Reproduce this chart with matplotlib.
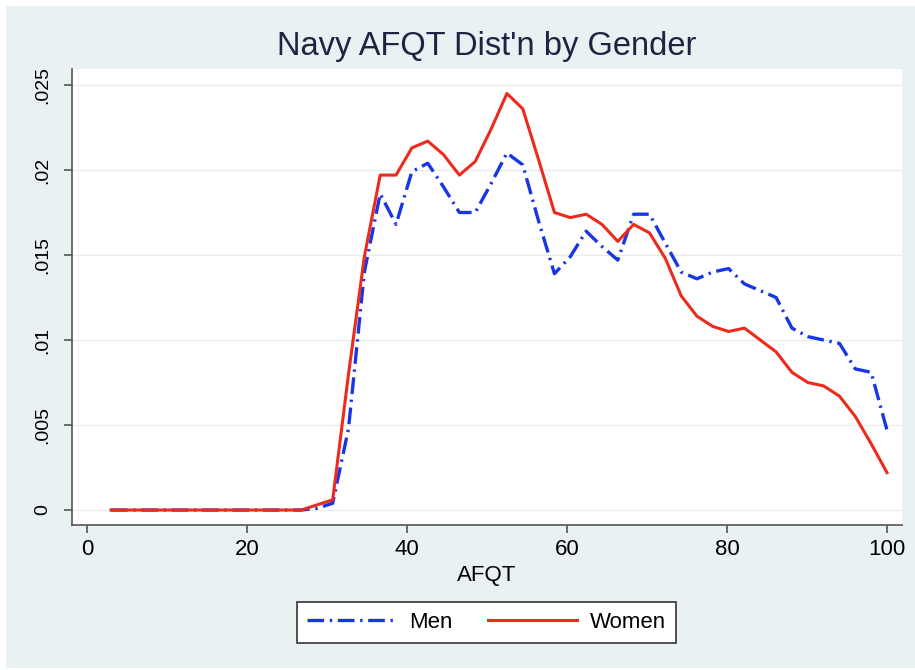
import matplotlib
matplotlib.use('Agg')
import matplotlib.pyplot as plt
from matplotlib.patches import Rectangle

plt.rcParams['font.family'] = ['Liberation Sans', 'DejaVu Sans']

# kdensity evaluation points (AFQT)
afqt = [3.00, 4.98, 6.96, 8.94, 10.92, 12.90, 14.88, 16.86, 18.84, 20.82,
        22.80, 24.78, 26.76, 28.73, 30.71, 32.69, 34.67, 36.65, 38.63, 40.61,
        42.59, 44.57, 46.55, 48.53, 50.51, 52.49, 54.47, 56.45, 58.43, 60.41,
        62.39, 64.37, 66.35, 68.33, 70.31, 72.29, 74.27, 76.24, 78.22, 80.20,
        82.18, 84.16, 86.14, 88.12, 90.10, 92.08, 94.06, 96.04, 98.02, 100.00]

men = [0, 0, 0, 0, 0, 0, 0, 0, 0, 0,
       0, 0, 0, 0.0001, 0.0004, 0.0048, 0.0140, 0.0186, 0.0168, 0.0199,
       0.0204, 0.0190, 0.0175, 0.0175, 0.0192, 0.0210, 0.0203, 0.0170, 0.0139, 0.0149,
       0.0164, 0.0155, 0.0147, 0.0174, 0.0174, 0.0157, 0.0140, 0.0136, 0.0140, 0.0142,
       0.0133, 0.0129, 0.0125, 0.0107, 0.0102, 0.0100, 0.0098, 0.0083, 0.0081, 0.0047]

women = [0, 0, 0, 0, 0, 0, 0, 0, 0, 0,
         0, 0, 0, 0.0003, 0.0006, 0.0080, 0.0149, 0.0197, 0.0197, 0.0213,
         0.0217, 0.0209, 0.0197, 0.0205, 0.0224, 0.0245, 0.0236, 0.0206, 0.0175, 0.0172,
         0.0174, 0.0168, 0.0158, 0.0168, 0.0163, 0.0148, 0.0126, 0.0114, 0.0108, 0.0105,
         0.0107, 0.0100, 0.0093, 0.0081, 0.0075, 0.0073, 0.0067, 0.0055, 0.0039, 0.0022]

xticks = [0, 20, 40, 60, 80, 100]
yticks = [0, 0.005, 0.01, 0.015, 0.02, 0.025]
ytick_labels = ['0', '.005', '.01', '.015', '.02', '.025']

W, H = 915, 670
fig = plt.figure(figsize=(W / 100, H / 100), dpi=100, facecolor='white')
# light bluish graph region behind everything
fig.patches.append(Rectangle((6 / W, 2 / H), 1 - 6 / W, (H - 8) / H,
                             transform=fig.transFigure, facecolor='#e9f1f3',
                             edgecolor='none', zorder=-10))

ax = fig.add_axes([72 / W, 1 - 525 / H, (902 - 72) / W, (525 - 69) / H])
ax.set_facecolor('white')

ax.plot(afqt, men, color='#1836e6', lw=2.4, linestyle=(0, (5, 1.7, 0.7, 1.7)),
        label='Men')
ax.plot(afqt, women, color='#ec2b1c', lw=2.2, label='Women')

ax.set_xlim(-1.875, 101.875)
ax.set_ylim(-0.00088, 0.02594)
ax.set_xticks(xticks)
ax.set_yticks(yticks)
ax.set_yticklabels(ytick_labels, rotation=90, va='center')
ax.grid(axis='y', color='#ebebeb', lw=1)
ax.set_axisbelow(True)

for s in ['top', 'right']:
    ax.spines[s].set_visible(False)
for s in ['left', 'bottom']:
    ax.spines[s].set_color('#555555')
    ax.spines[s].set_linewidth(1.2)

ax.tick_params(axis='x', direction='out', length=6, width=1.2, color='#555555',
               labelsize=16, pad=4)
ax.tick_params(axis='y', direction='out', length=6, width=1.2, color='#555555',
               labelsize=14, pad=9)

fig.text(487 / W, 1 - 46 / H, "Navy AFQT Dist'n by Gender", ha='center', va='center',
         fontsize=23.5, color='#1c2541')
fig.text(487 / W, 1 - 575 / H, 'AFQT', ha='center', va='center', fontsize=16)

leg = fig.legend(loc='center', bbox_to_anchor=((293 + 680) / 2 / W, 1 - 622 / H),
                 ncol=2, fontsize=16, frameon=True, fancybox=False, framealpha=1,
                 handlelength=4, handletextpad=0.6, columnspacing=1.6,
                 borderpad=0.45)
leg.get_frame().set_edgecolor('#333333')
leg.get_frame().set_linewidth(1.2)

plt.savefig('out.png', dpi=100, facecolor=fig.get_facecolor())
